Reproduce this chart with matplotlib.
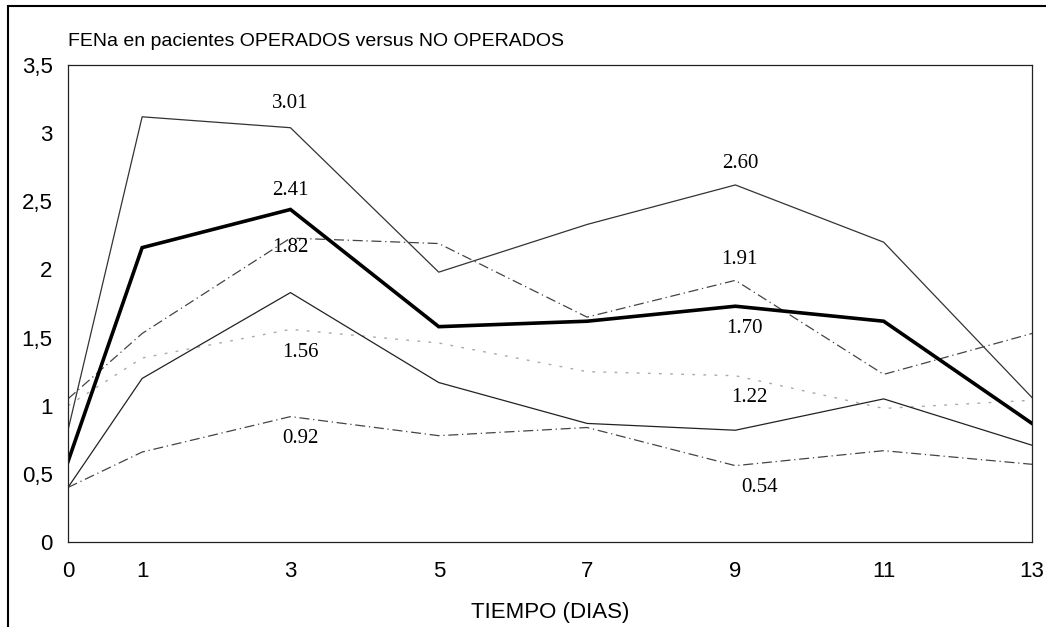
import matplotlib
matplotlib.use("Agg")
import matplotlib.pyplot as plt
from matplotlib.patches import Rectangle

dias = [0, 1, 3, 5, 7, 9, 11, 13]
serie_max_op = [0.82, 3.12, 3.04, 1.98, 2.33, 2.62, 2.20, 1.06]
serie_media_op = [0.59, 2.16, 2.44, 1.58, 1.62, 1.73, 1.62, 0.87]
serie_max_no = [1.05, 1.53, 2.23, 2.19, 1.65, 1.92, 1.23, 1.53]
serie_min_op = [0.40, 1.20, 1.83, 1.17, 0.87, 0.82, 1.05, 0.71]
serie_media_no = [1.00, 1.35, 1.56, 1.46, 1.25, 1.22, 0.98, 1.04]
serie_min_no = [0.40, 0.66, 0.92, 0.78, 0.84, 0.56, 0.67, 0.57]

etiquetas = ["3.01", "2.41", "1.82", "1.56", "0.92", "2.60", "1.91", "1.70", "1.22", "0.54"]
etiq_x = [3.0, 3.0, 3.0, 3.13, 3.13, 9.06, 9.06, 9.12, 9.19, 9.33]
etiq_y = [3.22, 2.58, 2.16, 1.39, 0.76, 2.78, 2.07, 1.57, 1.06, 0.40]

yticks = [0, 0.5, 1, 1.5, 2, 2.5, 3, 3.5]
ytick_labels = ["0", "0,5", "1", "1,5", "2", "2,5", "3", "3,5"]

titulo = "FENa en pacientes OPERADOS versus NO OPERADOS"
xlabel = "TIEMPO (DIAS)"

fig = plt.figure(figsize=(10.46, 6.27), dpi=100)
ax = fig.add_axes([0.065, 0.1356, 0.9216, 0.7607])

ax.plot(dias, serie_max_op, color="#333333", lw=0.9, ls="-")
ax.plot(dias, serie_max_no, color="#444444", lw=0.9, ls=(0, (8, 3, 1, 3)))
ax.plot(dias, serie_media_no, color="#aaaaaa", lw=1.0, ls=(0, (2, 6)))
ax.plot(dias, serie_min_op, color="#222222", lw=0.9, ls="-")
ax.plot(dias, serie_min_no, color="#444444", lw=0.9, ls=(0, (8, 3, 1, 3)))
ax.plot(dias, serie_media_op, color="black", lw=2.6, ls="-", solid_joinstyle="miter")

for t, x, y in zip(etiquetas, etiq_x, etiq_y):
    ax.text(x, y, t, ha="center", va="center", fontsize=15,
            family="Liberation Serif", color="black")

ax.set_xlim(0, 13)
ax.set_ylim(0, 3.5)
ax.set_xticks(dias)
ax.set_xticklabels([str(d) for d in dias], fontsize=16, family="Liberation Sans")
ax.set_yticks(yticks)
ax.set_yticklabels(ytick_labels, fontsize=16, family="Liberation Sans")
ax.tick_params(axis="x", length=0, pad=14)
ax.tick_params(axis="y", length=0, pad=11)
for s in ax.spines.values():
    s.set_linewidth(0.9)
    s.set_color("#222222")

ax.set_xlabel(xlabel, fontsize=16, family="Liberation Sans", labelpad=14)
fig.text(0.065, 0.934, titulo, fontsize=14, family="Liberation Sans",
         ha="left", va="center")

fig.patches.append(Rectangle((0.008, -0.01), 1.5, 1.0, transform=fig.transFigure,
                             fill=False, lw=1.5, ec="black"))

fig.savefig("out.png", dpi=100)
